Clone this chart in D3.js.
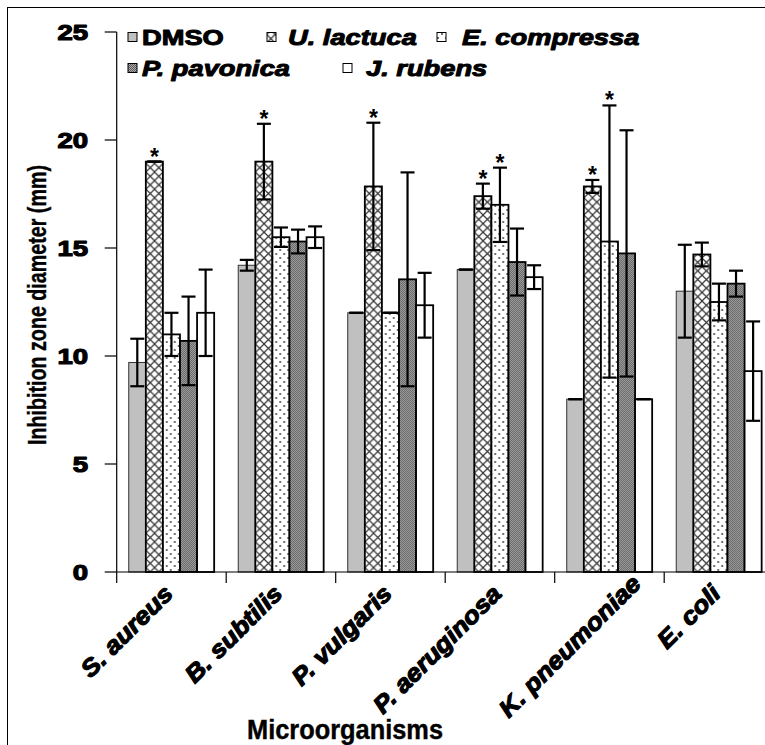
<!DOCTYPE html>
<html>
<head>
<meta charset="utf-8">
<script src="https://cdn.jsdelivr.net/npm/d3@7"></script>
<style>
  body { margin: 0; background: #fff; }
  svg { display: block; font-family: "Liberation Sans", Arial, sans-serif; }
</style>
</head>
<body>
<script>
const categories = ['S. aureus', 'B. subtilis', 'P. vulgaris', 'P. aeruginosa', 'K. pneumoniae', 'E. coli'];
const series = ['DMSO', 'U. lactuca', 'E. compressa', 'P. pavonica', 'J. rubens'];

// mean inhibition zone (mm), one array per extract
const dmso      = [9.7, 14.2, 12.0, 14.0, 8.0, 13.0];
const uLactuca  = [19.0, 19.0, 17.85, 17.4, 17.85, 14.7];
const eCompressa = [11.0, 15.5, 12.0, 17.0, 15.3, 12.5];
const pPavonica = [10.7, 15.3, 13.55, 14.35, 14.75, 13.35];
const jRubens   = [12.0, 15.5, 12.35, 13.65, 8.0, 9.3];

// standard deviations
const dmsoSd      = [1.1, 0.25, 0, 0, 0, 2.15];
const uLactucaSd  = [0, 1.75, 2.95, 0.58, 0.3, 0.55];
const eCompressaSd = [1.0, 0.45, 0, 1.72, 6.3, 0.85];
const pPavonicaSd = [2.05, 0.55, 4.95, 1.55, 5.7, 0.6];
const jRubensSd   = [2.0, 0.5, 1.5, 0.55, 0, 2.3];

// significance stars
const uLactucaSig  = [1, 1, 1, 1, 1, 0];
const eCompressaSig = [0, 0, 0, 1, 1, 0];

const yTicks = [0, 5, 10, 15, 20, 25];

const means = [dmso, uLactuca, eCompressa, pPavonica, jRubens];
const sds = [dmsoSd, uLactucaSd, eCompressaSd, pPavonicaSd, jRubensSd];
const sigs = [null, uLactucaSig, eCompressaSig, null, null];

const W = 765, H = 745;
const plotLeft = 116.7, plotTop = 32, plotBottom = 572, step = 109.5;

const svg = d3.select('body').append('svg')
    .attr('width', W)
    .attr('height', H);

// fills
const defs = svg.append('defs');
const cross = defs.append('pattern').attr('id', 'cross')
    .attr('patternUnits', 'userSpaceOnUse').attr('width', 8.6).attr('height', 8.6);
cross.append('rect').attr('width', 8.6).attr('height', 8.6).attr('fill', '#fff');
cross.append('path').attr('d', 'M0,0L8.6,8.6M8.6,0L0,8.6')
    .attr('stroke', '#333').attr('stroke-width', 1.2);

const dots = defs.append('pattern').attr('id', 'dots')
    .attr('patternUnits', 'userSpaceOnUse').attr('width', 8).attr('height', 8);
dots.append('rect').attr('width', 8).attr('height', 8).attr('fill', '#fff');
dots.append('circle').attr('cx', 2).attr('cy', 2).attr('r', 1).attr('fill', '#444');
dots.append('circle').attr('cx', 6).attr('cy', 6).attr('r', 1).attr('fill', '#444');

const checker = defs.append('pattern').attr('id', 'checker')
    .attr('patternUnits', 'userSpaceOnUse').attr('width', 2).attr('height', 2);
checker.append('rect').attr('width', 2).attr('height', 2).attr('fill', '#b0b0b0');
checker.append('rect').attr('width', 1).attr('height', 1).attr('fill', '#555');
checker.append('rect').attr('x', 1).attr('y', 1).attr('width', 1).attr('height', 1).attr('fill', '#555');

const fills = ['#c0c0c0', 'url(#cross)', 'url(#dots)', 'url(#checker)', '#fff'];

// frame
svg.append('rect')
    .attr('x', 7.5).attr('y', 7.5)
    .attr('width', 900).attr('height', 900)
    .attr('fill', 'none').attr('stroke', '#000').attr('stroke-width', 1);

const x0 = d3.scaleBand()
    .domain(categories)
    .range([plotLeft, plotLeft + step * categories.length])
    .paddingInner(0.22)
    .paddingOuter(0.11);

const x1 = d3.scaleBand()
    .domain(series)
    .range([0, x0.bandwidth()]);

const y = d3.scaleLinear()
    .domain([0, 25])
    .range([plotBottom, plotTop]);

// bars
const groups = svg.append('g').selectAll('g')
    .data(categories)
    .join('g')
    .attr('transform', c => `translate(${x0(c)},0)`);

groups.selectAll('rect')
    .data((c, ci) => series.map((s, si) => ({ s, si, v: means[si][ci] })))
    .join('rect')
    .attr('x', d => x1(d.s))
    .attr('y', d => y(d.v))
    .attr('width', x1.bandwidth())
    .attr('height', d => y(0) - y(d.v))
    .attr('fill', d => fills[d.si])
    .attr('stroke', d => d.si === 0 ? '#333' : '#000')
    .attr('stroke-width', d => d.si === 0 ? 1 : 1.8);

// error bars
const err = groups.selectAll('g.err')
    .data((c, ci) => series.map((s, si) => ({ s, si, v: means[si][ci], sd: sds[si][ci], sig: sigs[si] ? sigs[si][ci] : 0 })))
    .join('g')
    .attr('class', 'err')
    .attr('transform', d => `translate(${x1(d.s) + x1.bandwidth() / 2},0)`)
    .attr('stroke', '#000')
    .attr('stroke-width', 2.2);

err.append('line')
    .attr('y1', d => y(d.v + d.sd))
    .attr('y2', d => y(d.v - d.sd));
err.append('line')
    .attr('x1', -7).attr('x2', 7)
    .attr('y1', d => y(d.v + d.sd)).attr('y2', d => y(d.v + d.sd));
err.append('line')
    .attr('x1', -7).attr('x2', 7)
    .attr('y1', d => y(d.v - d.sd)).attr('y2', d => y(d.v - d.sd));

err.filter(d => d.sig)
    .append('text')
    .attr('y', d => y(d.v + d.sd) + 3)
    .attr('text-anchor', 'middle')
    .attr('font-size', 23)
    .attr('font-weight', 'bold')
    .attr('stroke', 'none')
    .attr('fill', '#000')
    .text('*');

// axes
const axisG = svg.append('g').attr('stroke', '#000').attr('stroke-width', 1.2);
axisG.append('line')
    .attr('x1', plotLeft).attr('x2', plotLeft)
    .attr('y1', y(25)).attr('y2', y(0));
axisG.append('line')
    .attr('x1', plotLeft).attr('x2', W + 20)
    .attr('y1', y(0)).attr('y2', y(0));
axisG.selectAll('line.yt')
    .data(yTicks)
    .join('line')
    .attr('class', 'yt')
    .attr('x1', plotLeft - 12).attr('x2', plotLeft)
    .attr('y1', d => y(d)).attr('y2', d => y(d));
axisG.selectAll('line.xt')
    .data(d3.range(categories.length + 1))
    .join('line')
    .attr('class', 'xt')
    .attr('x1', i => plotLeft + i * x0.step()).attr('x2', i => plotLeft + i * x0.step())
    .attr('y1', y(0)).attr('y2', y(0) + 11);

function wideText(sel, x, yy, str, o) {
  const g = sel.append('g').attr('transform', `translate(${x},${yy}) ${o.rot ? `rotate(${o.rot})` : ''} scale(${o.sx || 1},1)`);
  return g.append('text')
      .attr('text-anchor', o.anchor || 'start')
      .attr('font-size', o.size)
      .attr('font-weight', 'bold')
      .attr('font-style', o.italic ? 'italic' : 'normal')
      .attr('fill', '#000')
      .attr('stroke', '#000')
      .attr('stroke-width', o.stroke || 0.6)
      .attr('stroke-linejoin', 'round')
      .text(str);
}

// y tick labels
yTicks.forEach(t => {
  wideText(svg, 88, y(t) + 8, t, { size: 22, sx: 1.25, anchor: 'end', stroke: 1.2 });
});

// category labels
categories.forEach(c => {
  const cx = x0(c) + x0.bandwidth() / 2;
  const nudge = c === 'K. pneumoniae' ? [30, -10] : [0, 0];
  wideText(svg, cx + 3 + nudge[0], 595 + nudge[1], c, { size: 24, sx: 1.1, italic: true, anchor: 'end', rot: -45, stroke: 1.2 });
});

// axis titles
svg.append('text')
    .attr('transform', 'translate(46,305) rotate(-90)')
    .attr('text-anchor', 'middle')
    .attr('font-size', 26)
    .attr('font-weight', 'bold')
    .attr('stroke', '#000')
    .attr('stroke-width', 0.4)
    .attr('textLength', 280)
    .attr('lengthAdjust', 'spacingAndGlyphs')
    .text('Inhibition zone diameter (mm)');

svg.append('text')
    .attr('x', 345).attr('y', 739)
    .attr('text-anchor', 'middle')
    .attr('font-size', 27)
    .attr('font-weight', 'bold')
    .attr('stroke', '#000')
    .attr('stroke-width', 0.4)
    .attr('textLength', 196)
    .attr('lengthAdjust', 'spacingAndGlyphs')
    .text('Microorganisms');

// legend
const legendPos = [[128, 37], [267, 37], [437, 37], [128, 68], [343, 68]];
const legendTextDx = [14, 21, 25, 14, 23];
const legend = svg.append('g');
series.forEach((s, i) => {
  const [lx, ly] = legendPos[i];
  legend.append('rect')
      .attr('x', lx).attr('y', ly - 4.5)
      .attr('width', 9).attr('height', 9)
      .attr('fill', fills[i])
      .attr('stroke', '#000').attr('stroke-width', 1);
  wideText(legend, lx + legendTextDx[i], ly + 8, s, { size: 22, sx: 1.24, italic: i > 0, stroke: 1 });
});
</script>
</body>
</html>
